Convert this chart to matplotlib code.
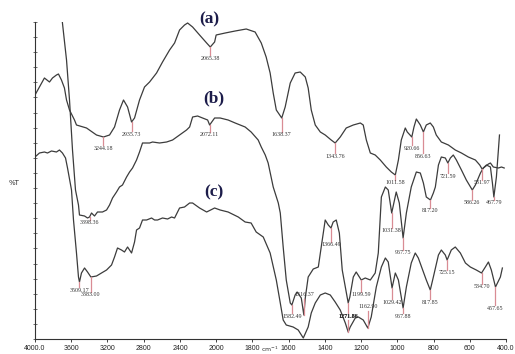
import numpy as np
import matplotlib.pyplot as plt

# FTIR spectra (a), (b), (c): wavenumber (cm-1) and transmittance (arbitrary %T units)
wn_a = [4000, 3951, 3896, 3840, 3807, 3763, 3741, 3708, 3675, 3652, 3619, 3564, 3542, 3431,
        3321, 3244, 3177, 3122, 3067, 3023, 2978, 2934, 2901, 2846, 2791, 2735, 2658, 2592,
        2514, 2459, 2404, 2349, 2315, 2260, 2183, 2105, 2065, 2017, 2000, 1950, 1895, 1834,
        1785, 1751, 1724, 1702, 1685, 1668, 1638, 1619, 1591, 1564, 1536, 1508, 1492, 1475,
        1453, 1425, 1398, 1365, 1343, 1315, 1282, 1243, 1204, 1188, 1171, 1149, 1122, 1094,
        1061, 1033, 1011, 994, 978, 956, 945, 920, 908, 895, 873, 856, 840, 818, 801, 785,
        757, 718, 680, 646, 608, 569, 545, 532, 497, 486, 470, 442, 425, 410]
t_a = [244, 252, 261, 257, 261, 264, 265, 259, 251, 239, 229, 219, 214, 211,
       204, 202, 204, 212, 229, 239, 232, 217, 221, 239, 252, 257, 266, 277,
       289, 296, 309, 314, 316, 312, 304, 296, 292, 297, 304, 306, 308, 310,
       307, 296, 282, 266, 246, 229, 221, 232, 256, 266, 267, 262, 251, 229,
       214, 207, 204, 199, 196, 202, 211, 214, 216, 214, 199, 186, 184, 179,
       172, 167, 164, 179, 199, 211, 207, 202, 212, 220, 214, 207, 214, 216, 212, 204,
       197, 194, 189, 186, 182, 179, 174, 170, 175, 176, 172, 171, 172, 171]

wn_b = [3750, 3697, 3652, 3619, 3586, 3553, 3520, 3509, 3453, 3420, 3398, 3376, 3343, 3310,
        3255, 3210, 3177, 3144, 3100, 3067, 3034, 2989, 2956, 2923, 2879, 2846, 2813, 2735,
        2702, 2625, 2547, 2481, 2404, 2327, 2293, 2260, 2205, 2150, 2094, 2072, 2017, 1978,
        1934, 1895, 1840, 1807, 1768, 1751, 1729, 1713, 1685, 1657, 1646, 1630, 1613, 1591,
        1582, 1564, 1553, 1530, 1516, 1508, 1492, 1464, 1436, 1420, 1398, 1381, 1366, 1354,
        1337, 1320, 1304, 1271, 1262, 1243, 1227, 1199, 1177, 1149, 1122, 1105, 1088, 1066,
        1050, 1031, 1006, 989, 968, 950, 923, 895, 873, 856, 840, 817, 801, 790, 773, 757,
        735, 721, 707, 691, 674, 646, 619, 586, 569, 541, 525, 508, 486, 475, 467, 453,
        442, 436]
t_b = [372, 316, 279, 239, 189, 149, 134, 124, 123, 121, 122, 126, 123, 127,
       127, 129, 134, 141, 147, 152, 154, 162, 167, 171, 179, 187, 196, 196,
       197, 196, 197, 199, 204, 209, 212, 222, 223, 221, 219, 214, 221, 221,
       219, 216, 212, 207, 199, 192, 184, 176, 152, 136, 126, 92, 59, 36,
       34, 44, 47, 41, 24, 41, 62, 70, 72, 92, 119, 114, 111, 117,
       119, 106, 69, 36, 42, 62, 67, 59, 61, 59, 66, 86, 142, 152,
       149, 126, 147, 136, 101, 126, 152, 167, 166, 156, 142, 139, 146, 152, 174, 182,
       181, 176, 181, 184, 179, 169, 159, 149, 154, 166, 171, 174, 172, 156, 142, 162,
       189, 204]

wn_c = [4000, 3951, 3896, 3862, 3818, 3763, 3730, 3697, 3663, 3641, 3597, 3575, 3542, 3520,
        3509, 3487, 3453, 3420, 3383, 3321, 3266, 3210, 3155, 3122, 3089, 3045, 3012, 2978,
        2934, 2901, 2879, 2846, 2813, 2768, 2713, 2680, 2647, 2592, 2536, 2492, 2459, 2404,
        2349, 2293, 2260, 2183, 2105, 2017, 1978, 1934, 1878, 1840, 1807, 1779, 1740, 1702,
        1668, 1646, 1630, 1613, 1575, 1547, 1519, 1492, 1475, 1453, 1425, 1398, 1370, 1343,
        1315, 1287, 1271, 1260, 1232, 1215, 1188, 1163, 1144, 1116, 1088, 1066, 1050, 1029,
        1011, 994, 968, 950, 923, 901, 884, 856, 840, 818, 801, 773, 757, 735, 725, 702,
        680, 652, 624, 597, 564, 535, 514, 497, 481, 458, 431, 420]
t_c = [182, 186, 187, 186, 188, 187, 189, 186, 181, 171, 149, 119, 86, 62,
       57, 66, 71, 67, 62, 63, 66, 69, 74, 82, 91, 89, 87, 92,
       86, 97, 109, 111, 119, 119, 121, 119, 119, 121, 120, 122, 121, 131,
       132, 136, 136, 131, 127, 131, 129, 127, 122, 117, 116, 107, 102, 86,
       59, 36, 19, 14, 12, 9, 1, 12, 26, 36, 44, 46, 44, 37,
       29, 16, 7, 12, 21, 22, 19, 11, 22, 52, 72, 81, 77, 51,
       66, 59, 31, 52, 76, 86, 81, 67, 59, 49, 62, 84, 89, 84, 79, 89,
       92, 86, 76, 72, 69, 66, 72, 77, 69, 52, 62, 71]

# peak labels: (spectrum, wavenumber, text, height of label centre)
peaks = [
    ("a", 3244, "3244.18", 191), ("a", 2934, "2935.73", 205), ("a", 2065, "2065.38", 281),
    ("a", 1638, "1638.37", 204), ("a", 1343, "1343.76", 183), ("a", 1011, "1011.58", 156),
    ("a", 920, "920.66", 191), ("a", 856, "856.63", 183), ("a", 532, "531.97", 156),
    ("b", 3398, "3398.36", 116), ("b", 2072, "2072.11", 204), ("b", 1582, "1582.49", 23),
    ("b", 1516, "1516.37", 44), ("b", 1366, "1366.49", 94), ("b", 1271, "1271.86", 23),
    ("b", 1199, "1199.59", 44), ("b", 1031, "1031.38", 108), ("b", 968, "967.75", 86),
    ("b", 817, "817.20", 128), ("b", 721, "721.59", 163), ("b", 586, "586.26", 136),
    ("b", 467, "467.79", 136),
    ("c", 3509, "3509.17", 49), ("c", 3383, "3383.00", 44), ("c", 1271, "1271.86", 23),
    ("c", 1163, "1162.90", 32), ("c", 1029, "1029.42", 37), ("c", 968, "967.88", 23),
    ("c", 818, "817.85", 37), ("c", 725, "725.15", 66), ("c", 535, "534.70", 52),
    ("c", 458, "457.65", 31),
]

xticks = [4000, 3600, 3200, 2800, 2400, 2000, 1800, 1600, 1400, 1200, 1000, 800, 600, 400]
xticklabels = ["4000.0", "3600", "3200", "2800", "2400", "2000", "1800", "1600",
               "1400", "1200", "1000", "800", "600", "400.0"]


# x axis: 400 cm-1 per division above 2000, 200 cm-1 per division below
def fwd(w):
    w = np.asarray(w, dtype=float)
    return np.where(w >= 2000, (w - 4000) / 400, -5 - (2000 - w) / 200)


def inv(p):
    p = np.asarray(p, dtype=float)
    return np.where(p >= -5, 4000 + 400 * p, 2000 + 200 * (p + 5))


fig = plt.figure(figsize=(5.15, 3.54), dpi=100)
ax = fig.add_axes([35 / 515, 15 / 354, 471 / 515, 317 / 354])
ax.set_xscale("function", functions=(fwd, inv))

line_col = "#3c3c3c"
ax.plot(wn_a, t_a, color=line_col, lw=0.9)
ax.plot(wn_b, t_b, color=line_col, lw=0.9)
ax.plot(wn_c, t_c, color=line_col, lw=0.9)

curves = {"a": (wn_a, t_a), "b": (wn_b, t_b), "c": (wn_c, t_c)}
for name, w, txt, ty in peaks:
    wn, tt = curves[name]
    y0 = np.interp(w, wn[::-1], tt[::-1])
    y1 = ty + 3.5 if ty < y0 else ty - 3.5
    ax.plot([w, w], [y0, y1], color="#d98c94", lw=0.9)
    bold = "bold" if txt == "1271.86" else "normal"
    ax.text(w, ty, txt, fontsize=4.3, family="Liberation Serif", color="#333333",
            ha="center", va="center", fontweight=bold)

for lab, w, ty in [("(a)", 2072, 320), ("(b)", 2028, 241), ("(c)", 2028, 147)]:
    ax.text(w, ty, lab, fontsize=12.5, family="Liberation Serif", fontweight="bold",
            color="#1c1c4a", ha="center", va="center", clip_on=False)

ax.set_xlim(4000, 400)
ax.set_ylim(0, 317)
ax.set_xticks(xticks)
ax.set_xticklabels(xticklabels, family="Liberation Sans")
ax.set_yticks(np.linspace(0, 317, 22))
ax.set_yticklabels([])
ax.xaxis.set_minor_locator(plt.NullLocator())
ax.tick_params(axis="x", direction="out", length=2.5, width=0.6, labelsize=5,
               colors="#222222", pad=2)
ax.tick_params(axis="y", direction="inout", length=3, width=0.6, colors="#555555")
for s in ["top", "right"]:
    ax.spines[s].set_visible(False)
for s in ["left", "bottom"]:
    ax.spines[s].set_linewidth(0.8)
    ax.spines[s].set_color("#333333")

fig.text(14 / 515, 1 - 183 / 354, "%T", fontsize=5, color="#333333", ha="center", va="center")
fig.text(270 / 515, 0.0, "cm$^{-1}$", fontsize=4.5, color="#333333", ha="center", va="bottom")

fig.savefig("out.png", dpi=100)
